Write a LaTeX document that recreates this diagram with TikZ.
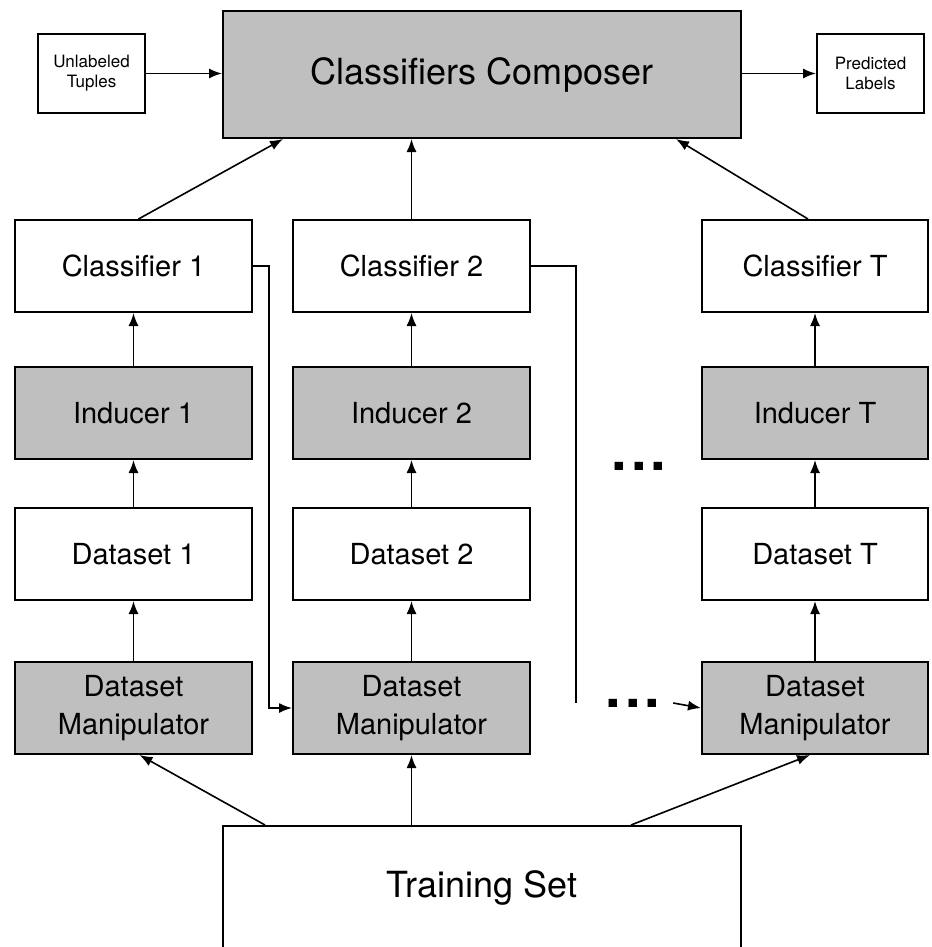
\documentclass[tikz,border=0pt]{standalone}
\usepackage{fontspec}
\setmainfont{TeX Gyre Heros}
\usetikzlibrary{positioning, arrows.meta}

\begin{document}
\begin{tikzpicture}[x=0.5pt, y=-0.5pt, >={Latex[length=6.5pt,width=5pt]}, line width=0.8pt,
  box/.style={draw, rectangle, line width=1pt, minimum width=118.5pt, minimum height=46pt, align=center, font=\fontsize{14.5}{19}\selectfont},
  shaded/.style={box, fill=black!25},
  smallbox/.style={draw, rectangle, line width=1pt, minimum width=53.5pt, minimum height=39.5pt, align=center, font=\fontsize{8.5}{10}\selectfont},
  bigbox/.style={draw, rectangle, line width=1pt, minimum width=259pt, align=center, font=\fontsize{18}{22}\selectfont},
  dots/.style={inner sep=0pt, font=\fontsize{28}{28}\bfseries\selectfont}]
\useasboundingbox (0,0) rectangle (931,947);
\clip (0,0) rectangle (931,947);

\node (composer) [bigbox, fill=black!25, minimum height=63.5pt] at (482,74.5) {Classifiers Composer};
\node (unlabeled) [smallbox] at (91.5,73.5) {Unlabeled\\Tuples};
\node (predicted) [smallbox] at (870.5,73.5) {Predicted\\Labels};

% first column
\node (clf1) [box] at (133.5,266) {Classifier 1};
\node (ind1) [shaded, below=26.5pt of clf1] {Inducer 1};
\node (data1) [box, below=23.5pt of ind1] {Dataset 1};
\node (manip1) [shaded, below=30pt of data1] {Dataset\\Manipulator};

% second column
\node (clf2) [box] at (411.5,266) {Classifier 2};
\node (ind2) [shaded, below=26.5pt of clf2] {Inducer 2};
\node (data2) [box, below=23.5pt of ind2] {Dataset 2};
\node (manip2) [shaded, below=30pt of data2] {Dataset\\Manipulator};

% last column
\node (clfT) [box, minimum width=113pt] at (815,266) {Classifier T};
\node (indT) [shaded, minimum width=113pt, below=26.5pt of clfT] {Inducer T};
\node (dataT) [box, minimum width=113pt, below=23.5pt of indT] {Dataset T};
\node (manipT) [shaded, minimum width=113pt, below=30pt of dataT] {Dataset\\Manipulator};

\node (training) [bigbox, minimum height=62pt] at (482,888) {Training Set};

\node (dotsup) [dots] at (639,466) {.\hspace{2pt}.\hspace{2pt}.};
\node (dotslow) [dots] at (633,703) {.\hspace{2pt}.\hspace{2pt}.};
\coordinate (stop2) at (576,703);

\draw[->] (unlabeled.east) -- (unlabeled.east -| composer.west);
\draw[->] (composer.east |- predicted.west) -- (predicted.west);

\draw[->] ([xshift=2.5pt]clf1.north) -- ([xshift=30.5pt]composer.south west);
\draw[->] (clf2.north) -- (clf2.north |- composer.south);
\draw[->] ([xshift=-3.5pt]clfT.north) -- ([xshift=-33pt]composer.south east);

\draw[->] (ind1) -- (clf1);
\draw[->] (data1) -- (ind1);
\draw[->] (manip1) -- (data1);
\draw[->] (ind2) -- (clf2);
\draw[->] (data2) -- (ind2);
\draw[->] (manip2) -- (data2);
\draw[->] (indT) -- (clfT);
\draw[->] (dataT) -- (indT);
\draw[->] (manipT) -- (dataT);

\draw[->] (clf1.east) -- ++(8pt,0) |- (manip2.west);
\draw (clf2.east) -| (stop2);
\draw[->] ([xshift=6pt]dotslow.east) -- (manipT.west);

\draw[->] ([xshift=21.5pt]training.north west) -- ([xshift=3pt]manip1.south);
\draw[->] (training.north -| manip2.south) -- (manip2.south);
\draw[->] ([xshift=-55.5pt]training.north east) -- ([xshift=-2.5pt]manipT.south);
\end{tikzpicture}
\end{document}
